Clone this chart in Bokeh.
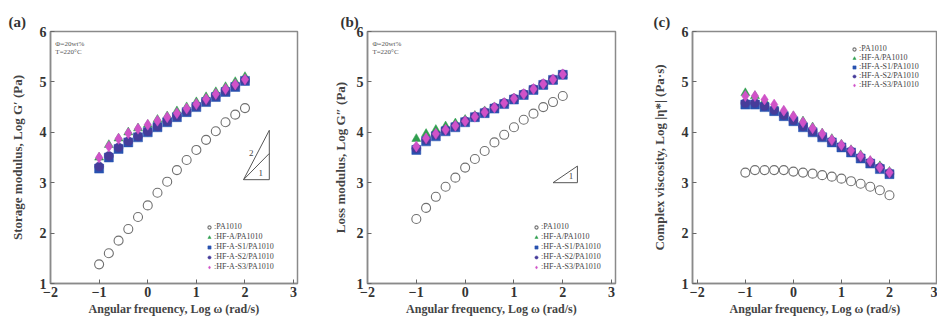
from bokeh.plotting import figure
from bokeh.layouts import row
from bokeh.models import Label, Legend, LegendItem, FixedTicker, Range1d
from bokeh.embed import file_html
from bokeh.resources import INLINE

# ---------------- data ----------------
log_w = [-1.0, -0.8, -0.6, -0.4, -0.2, 0.0, 0.2, 0.4, 0.6, 0.8, 1.0, 1.2, 1.4, 1.6, 1.8, 2.0]
series = ["PA1010", "HF-A/PA1010", "HF-A-S1/PA1010", "HF-A-S2/PA1010", "HF-A-S3/PA1010"]

# (a) storage modulus, log G'
g1_pa = [1.38, 1.60, 1.85, 2.08, 2.32, 2.55, 2.80, 3.02, 3.25, 3.45, 3.65, 3.85, 4.02, 4.20, 4.35, 4.48]
g1_hfa = [3.50, 3.75, 3.88, 4.00, 4.08, 4.15, 4.25, 4.32, 4.42, 4.50, 4.60, 4.70, 4.80, 4.90, 5.00, 5.10]
g1_s1 = [3.28, 3.50, 3.67, 3.80, 3.90, 4.00, 4.10, 4.20, 4.30, 4.40, 4.50, 4.60, 4.70, 4.80, 4.90, 5.02]
g1_s2 = [3.32, 3.53, 3.70, 3.82, 3.92, 4.02, 4.12, 4.22, 4.32, 4.42, 4.52, 4.62, 4.72, 4.82, 4.92, 5.03]
g1_s3 = [3.50, 3.72, 3.87, 3.98, 4.07, 4.15, 4.23, 4.30, 4.38, 4.47, 4.56, 4.66, 4.76, 4.86, 4.95, 5.05]

# (b) loss modulus, log G''
g2_pa = [2.28, 2.50, 2.72, 2.92, 3.10, 3.30, 3.47, 3.63, 3.80, 3.95, 4.10, 4.25, 4.37, 4.50, 4.60, 4.72]
g2_hfa = [3.87, 3.97, 4.05, 4.12, 4.18, 4.25, 4.33, 4.42, 4.50, 4.58, 4.67, 4.75, 4.83, 4.92, 5.02, 5.13]
g2_s1 = [3.65, 3.82, 3.92, 4.02, 4.10, 4.20, 4.30, 4.38, 4.47, 4.56, 4.65, 4.74, 4.84, 4.94, 5.04, 5.14]
g2_s2 = [3.68, 3.85, 3.95, 4.04, 4.12, 4.22, 4.31, 4.40, 4.49, 4.58, 4.67, 4.76, 4.86, 4.96, 5.05, 5.15]
g2_s3 = [3.72, 3.88, 3.97, 4.05, 4.13, 4.22, 4.31, 4.40, 4.49, 4.58, 4.67, 4.76, 4.86, 4.96, 5.05, 5.15]

# (c) complex viscosity, log |eta*|
eta_pa = [3.20, 3.25, 3.25, 3.25, 3.25, 3.22, 3.20, 3.18, 3.15, 3.12, 3.08, 3.03, 2.98, 2.92, 2.85, 2.75]
eta_hfa = [4.78, 4.72, 4.62, 4.52, 4.42, 4.32, 4.22, 4.10, 3.98, 3.87, 3.76, 3.65, 3.55, 3.43, 3.33, 3.22]
eta_s1 = [4.55, 4.55, 4.50, 4.42, 4.32, 4.22, 4.10, 4.00, 3.90, 3.80, 3.70, 3.60, 3.48, 3.38, 3.27, 3.17]
eta_s2 = [4.58, 4.58, 4.52, 4.44, 4.34, 4.24, 4.12, 4.02, 3.92, 3.82, 3.72, 3.62, 3.50, 3.40, 3.30, 3.19]
eta_s3 = [4.72, 4.72, 4.65, 4.55, 4.43, 4.32, 4.20, 4.08, 3.97, 3.85, 3.75, 3.64, 3.53, 3.43, 3.30, 3.20]

x_ticks = [-2, -1, 0, 1, 2, 3]
y_ticks = [1, 2, 3, 4, 5, 6]

# slope triangles (reference guides)
tri_a_x = [1.97, 2.50, 2.50, 1.97]
tri_a_y = [3.06, 3.06, 4.04, 3.06]
tri_a_inner_x = [1.97, 2.50]
tri_a_inner_y = [3.06, 3.58]
tri_b_x = [1.80, 2.30, 2.30, 1.80]
tri_b_y = [3.00, 3.00, 3.33, 3.00]

FONT = "Liberation Serif"
colors = ["#707070", "#2f9e4e", "#2852b0", "#463c9a", "#d052c8"]
markers = ["circle", "triangle", "square", "circle", "diamond"]


def make_panel(width, bl, br, xr, ylabel, ystand, tag, tag_off, data, legend_loc, legend_spacing):
    p = figure(width=width, height=322, output_backend="svg", toolbar_location=None,
               x_range=Range1d(*xr), y_range=Range1d(1, 6),
               min_border_left=bl, min_border_right=br, min_border_top=31, min_border_bottom=39)
    p.title.text = tag
    p.title.align = "left"
    p.title.offset = tag_off
    p.title.text_font = FONT
    p.title.text_font_size = "15px"
    p.title.text_font_style = "bold"
    p.title.text_color = "#333333"
    p.title.standoff = 4
    p.grid.visible = False
    p.outline_line_color = "#8a8a8a"
    p.outline_line_width = 1.5
    p.background_fill_color = "white"
    p.border_fill_color = "white"
    for ax in (p.xaxis, p.yaxis):
        ax.axis_line_color = "#8a8a8a"
        ax.axis_line_width = 1.5
        ax.major_tick_in = 4
        ax.major_tick_out = 0
        ax.major_tick_line_color = "#666666"
        ax.minor_tick_line_color = None
        ax.major_label_text_font = FONT
        ax.major_label_text_font_size = "14px"
        ax.major_label_text_font_style = "bold"
        ax.major_label_text_color = "#333333"
        ax.axis_label_text_font = FONT
        ax.axis_label_text_font_style = "bold"
        ax.axis_label_text_color = "#444444"
    p.xaxis.axis_label_text_font_size = "12px"
    p.yaxis.axis_label_text_font_size = "13px"
    p.xaxis.ticker = FixedTicker(ticks=x_ticks)
    p.yaxis.ticker = FixedTicker(ticks=y_ticks)
    p.xaxis.major_label_standoff = 3
    p.yaxis.major_label_standoff = 4
    p.xaxis.axis_label = "Angular frequency, Log ω (rad/s)"
    p.xaxis.axis_label_standoff = 2
    p.yaxis.axis_label = ylabel
    p.yaxis.axis_label_standoff = ystand

    items = []
    for name, ys, col, mk in zip(series, data, colors, markers):
        if name == "PA1010":
            r = p.scatter(log_w, ys, marker=mk, size=9, fill_color=None,
                          line_color=col, line_width=1.1)
        else:
            r = p.scatter(log_w, ys, marker=mk, size=9 if mk != "diamond" else 11,
                          fill_color=col, line_color=col, line_width=0.5)
        items.append(LegendItem(label=":" + name, renderers=[r]))
    leg = Legend(items=items, location=legend_loc, background_fill_alpha=0,
                 border_line_alpha=0, label_text_font=FONT, label_text_font_size="8px",
                 label_text_color="#444444", glyph_width=8, glyph_height=8,
                 label_height=8, label_standoff=1, spacing=legend_spacing, padding=2,
                 margin=0)
    p.add_layout(leg, "center")
    return p


pa = make_panel(310, 50, 13, (-2, 3.08), "Storage modulus, Log G′ (Pa)", 12, "(a)", -42,
                [g1_pa, g1_hfa, g1_s1, g1_s2, g1_s3], (153, 10), 1)
pb = make_panel(310, 57, 5, (-2, 3.08), "Loss modulus, Log G″ (Pa)", 6, "(b)", -27,
                [g2_pa, g2_hfa, g2_s1, g2_s2, g2_s3], (163, 10), 1)
pc = make_panel(317, 72, 0, (-2.1, 3.0), "Complex viscosity, Log |η*| (Pa·s)", 12, "(c)", -39,
                [eta_pa, eta_hfa, eta_s1, eta_s2, eta_s3], (156, 192), 0)

for p in (pa, pb):
    p.add_layout(Label(x=-1.9, y=5.68, text="Φ=20wt%", text_font=FONT,
                       text_font_size="7px", text_color="#555555"))
    p.add_layout(Label(x=-1.9, y=5.52, text="T=220°C", text_font=FONT,
                       text_font_size="7px", text_color="#555555"))

pa.line(tri_a_x, tri_a_y, line_color="#555555", line_width=1)
pa.line(tri_a_inner_x, tri_a_inner_y, line_color="#555555", line_width=1)
pa.add_layout(Label(x=2.08, y=3.52, text="2", text_font=FONT, text_font_size="9px",
                    text_color="#444444"))
pa.add_layout(Label(x=2.28, y=3.14, text="1", text_font=FONT, text_font_size="9px",
                    text_color="#444444"))
pb.line(tri_b_x, tri_b_y, line_color="#555555", line_width=1)
pb.add_layout(Label(x=2.12, y=3.08, text="1", text_font=FONT, text_font_size="9px",
                    text_color="#444444"))

layout = row(pa, pb, pc)
open("out.html", "w").write(file_html(layout, INLINE))
